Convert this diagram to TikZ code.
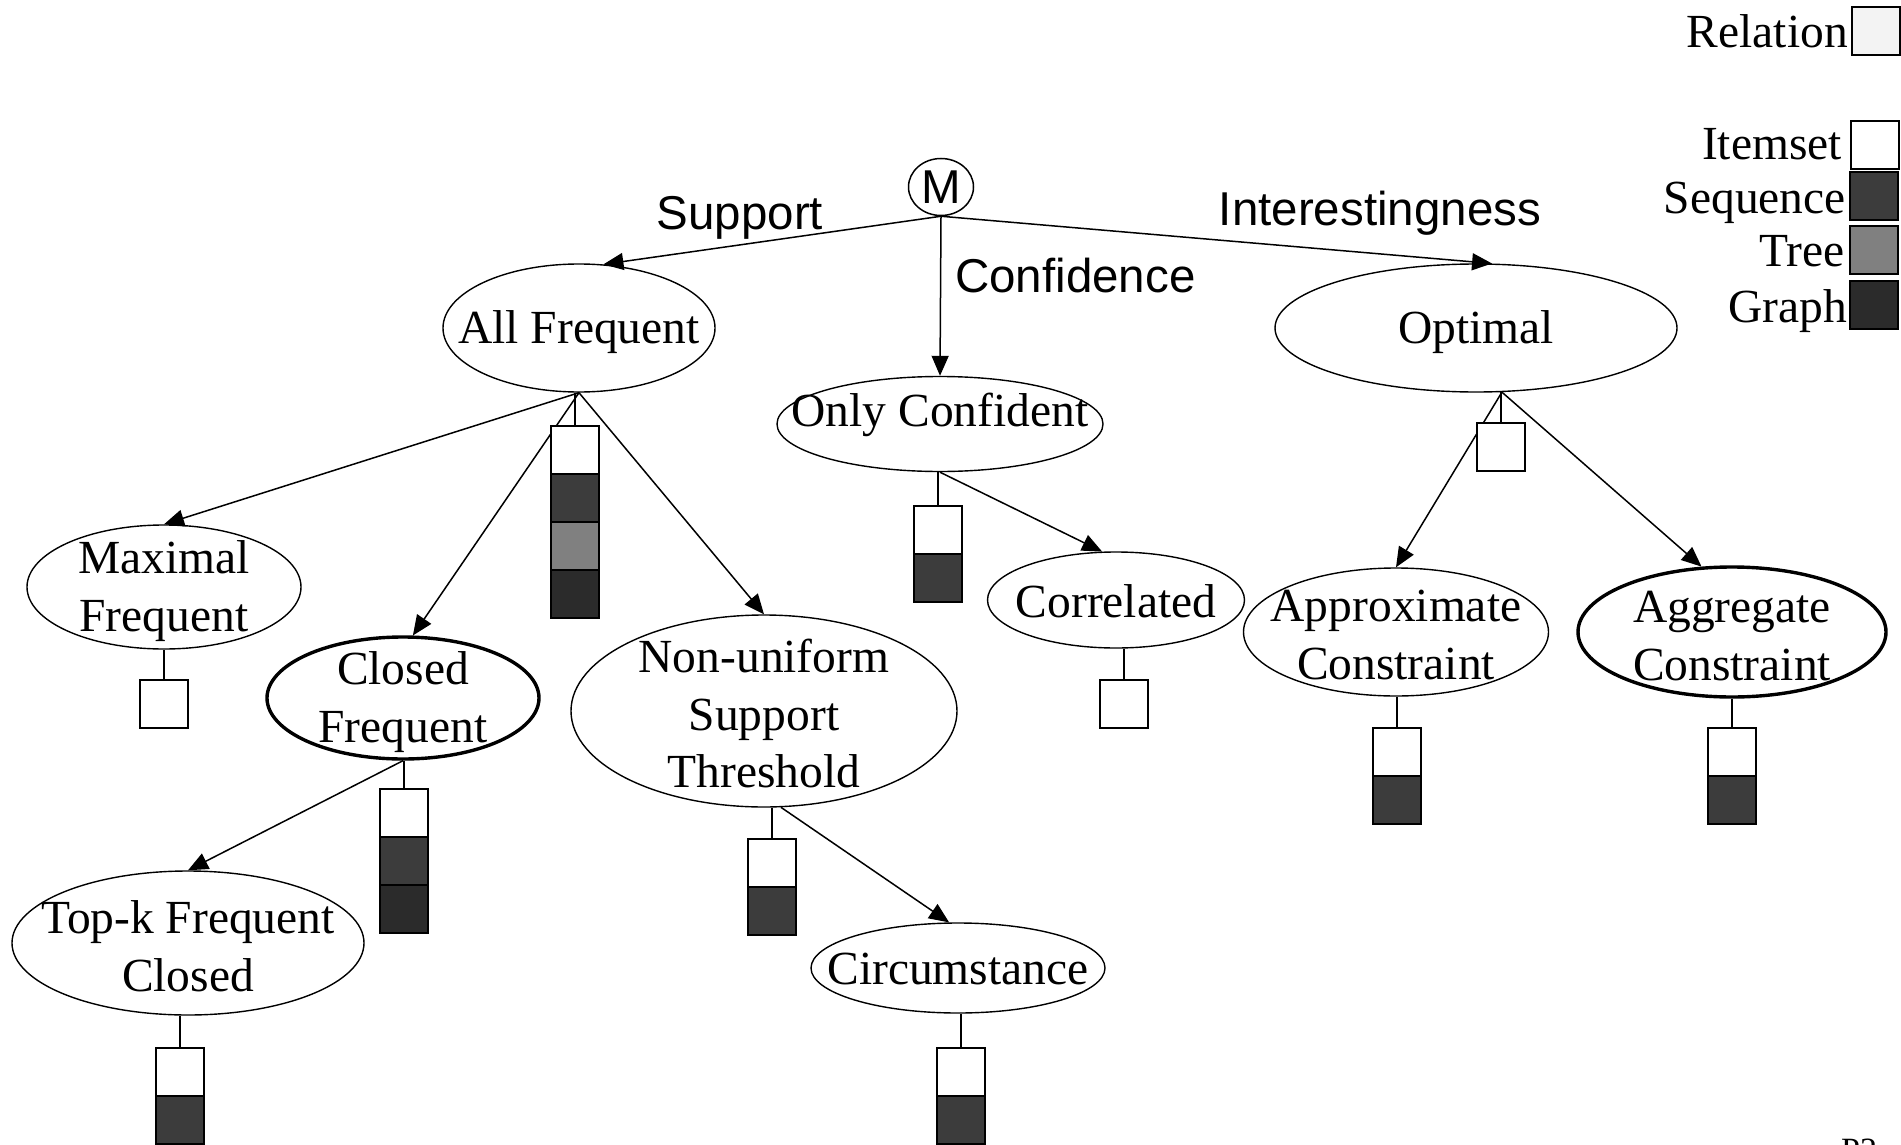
\documentclass[tikz,border=0pt]{standalone}
\usepackage{fontspec}
\setmainfont{Liberation Serif}
\newfontfamily\sansfam{Liberation Sans}
\usetikzlibrary{arrows.meta,shapes.geometric}
\definecolor{seqc}{HTML}{3C3C3C}
\definecolor{treec}{HTML}{808080}
\definecolor{graphc}{HTML}{2B2B2B}
\definecolor{relc}{HTML}{F3F3F3}
\newcommand\bigserif{\fontsize{47.5pt}{57.5pt}\selectfont}
\newcommand\bigsans{\sansfam\fontsize{47.5pt}{57.5pt}\selectfont}

\begin{document}
\begin{tikzpicture}[x=1pt,y=-1pt,
  oval/.style 2 args={draw, ellipse, line width=1.4pt, minimum width=#1, minimum height=#2, inner sep=0pt},
  heavy/.style={line width=3.4pt},
  txt/.style={font=\bigserif, align=center, inner sep=0pt},
  stxt/.style={font=\bigsans, inner sep=0pt},
  cell/.style={draw, line width=1.8pt, minimum width=48pt, minimum height=48pt, inner sep=0pt, outer sep=0pt, anchor=north, fill=white},
  link/.style={line width=1.5pt, -{Triangle[length=20pt,width=17pt]}},
  stem/.style={line width=1.5pt},
]
\useasboundingbox (0,0) rectangle (1901,1145);

% root
\node[draw, ellipse, line width=1.5pt, minimum width=65pt, minimum height=57pt, inner sep=0pt, font=\bigsans] (M) at (941,187) {M};

% concept nodes
\node[oval={272pt}{128pt}] (AF) at (579,328) {};
\node[oval={326pt}{95pt}]  (OC) at (940,424) {};
\node[oval={402pt}{128pt}] (OP) at (1476,328) {};
\node[oval={274pt}{124pt}] (MF) at (164,587) {};
\node[oval={272pt}{122pt}, heavy] (CF) at (403,698) {};
\node[oval={386pt}{192pt}] (NU) at (764,711) {};
\node[oval={352pt}{144pt}] (TK) at (188,943) {};
\node[oval={294pt}{90pt}]  (CI) at (958,968) {};
\node[oval={257pt}{96pt}]  (CO) at (1116,600) {};
\node[oval={305pt}{128pt}] (AC) at (1396,632) {};
\node[oval={308pt}{130pt}, heavy] (AG) at (1732,632) {};

% their texts
\node[txt] (AFt) at ([yshift=-4pt]AF.center) {All Frequent};
\node[txt, anchor=base] (OCt) at ([yshift=-2pt]OC.center) {Only Confident};
\node[txt] (OPt) at ([yshift=-4pt]OP.center) {Optimal};
\node[txt] (MFt) at ([yshift=-4pt]MF.center) {Maximal\\Frequent};
\node[txt] (CFt) at ([yshift=-4pt]CF.center) {Closed\\Frequent};
\node[txt] (NUt) at ([yshift=-3pt]NU.center) {Non-uniform\\Support\\Threshold};
\node[txt] (TKt) at ([yshift=-3pt]TK.center) {Top-k Frequent\\Closed};
\node[txt] (CIt) at ([yshift=-1pt]CI.center) {Circumstance};
\node[txt] (COt) at ([yshift=-1pt]CO.center) {Correlated};
\node[txt] (ACt) at ([yshift=-3pt]AC.center) {Approximate\\Constraint};
\node[txt] (AGt) at ([yshift=-4pt]AG.center) {Aggregate\\Constraint};

% edge labels
\node[stxt, anchor=base] (lsup) at (740,229) {Support};
\node[stxt, anchor=base west] (lconf) at (955,292) {Confidence};
\node[stxt, anchor=base] (lint) at (1380,225) {Interestingness};

% arrows
\draw[link] (M.south) -- (AF.69);
\draw[link] (M.south) -- (OC.north);
\draw[link] (M.south) -- (OP.76);
\draw[link] (AF.south) -- (MF.north);
\draw[link] (AF.south) -- (CF.81);
\draw[link] (AF.south) -- (NU.north);
\draw[link] (CF.south) -- (TK.north);
\draw[link] (NU.-80) -- (CI.101);
\draw[link] (OC.south) -- (CO.106);
\draw[link] (OP.-68) -- (AC.north);
\draw[link] (OP.-68) -- (AG.115);

% data-type stacks
\node[cell] (af1) at (575,426) {};
\node[cell, fill=seqc] (af2) at (af1.south) {};
\node[cell, fill=treec] (af3) at (af2.south) {};
\node[cell, fill=graphc] (af4) at (af3.south) {};
\draw[stem] (af1.north) -- (af1.north |- AF.south);

\node[cell] (mf1) at (164,680) {};
\draw[stem] (mf1.north) -- (mf1.north |- MF.south);

\node[cell] (cf1) at (404,789) {};
\node[cell, fill=seqc] (cf2) at (cf1.south) {};
\node[cell, fill=graphc] (cf3) at (cf2.south) {};
\draw[stem] (cf1.north) -- (cf1.north |- CF.south);

\node[cell] (nu1) at (772,839) {};
\node[cell, fill=seqc] (nu2) at (nu1.south) {};
\draw[stem] (nu1.north) -- (nu1.north |- NU.south);

\node[cell] (tk1) at (180,1048) {};
\node[cell, fill=seqc] (tk2) at (tk1.south) {};
\draw[stem] (tk1.north) -- (tk1.north |- TK.south);

\node[cell] (ci1) at (961,1048) {};
\node[cell, fill=seqc] (ci2) at (ci1.south) {};
\draw[stem] (ci1.north) -- (ci1.north |- CI.south);

\node[cell] (oc1) at (938,506) {};
\node[cell, fill=seqc] (oc2) at (oc1.south) {};
\draw[stem] (oc1.north) -- (oc1.north |- OC.south);

\node[cell] (co1) at (1124,680) {};
\draw[stem] (co1.north) -- (co1.north |- CO.south);

\node[cell] (op1) at (1501,423) {};
\draw[stem] (op1.north) -- ([yshift=0.5pt]op1.north |- OP.south);

\node[cell] (ac1) at (1397,728) {};
\node[cell, fill=seqc] (ac2) at (ac1.south) {};
\draw[stem] (ac1.north) -- (ac1.north |- AC.south);

\node[cell] (ag1) at (1732,728) {};
\node[cell, fill=seqc] (ag2) at (ag1.south) {};
\draw[stem] (ag1.north) -- (ag1.north |- AG.south);

% legend
\node[cell, anchor=north west, fill=relc] (lgR) at (1852,7) {};
\node[txt, anchor=base east] (lgRt) at (1848,48) {Relation};
\node[cell, anchor=north west] (lgI) at (1851,121) {};
\node[txt, anchor=base east] (lgIt) at (1842,160) {Itemset};
\node[cell, anchor=north west, fill=seqc] (lgS) at (1850,172) {};
\node[txt, anchor=base east] (lgSt) at (1846,213) {Sequence};
\node[cell, anchor=north west, fill=treec] (lgT) at (1850,226) {};
\node[txt, anchor=base east] (lgTt) at (1845,266) {Tree};
\node[cell, anchor=north west, fill=graphc] (lgG) at (1850,281) {};
\node[txt, anchor=base east] (lgGt) at (1847,322) {Graph};

% page mark
\node[font=\fontsize{34pt}{40pt}\selectfont, anchor=base west, inner sep=0pt] (pg) at (1841,1161) {P2};
\end{tikzpicture}
\end{document}
